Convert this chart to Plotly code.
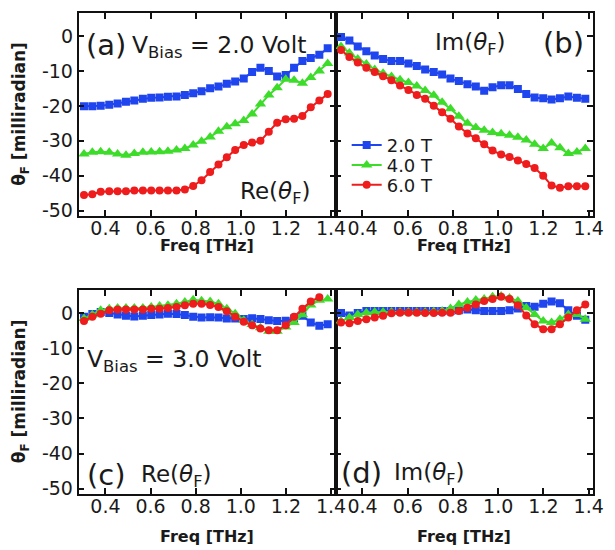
import plotly.graph_objects as go

# ---------------- data ----------------
freq = [0.305, 0.342, 0.379, 0.417, 0.454, 0.491, 0.528, 0.566, 0.603, 0.640,
        0.677, 0.715, 0.752, 0.789, 0.826, 0.864, 0.901, 0.938, 0.975, 1.013,
        1.050, 1.087, 1.124, 1.161, 1.199, 1.236, 1.273, 1.310, 1.348, 1.385]

# (a) Re, V_bias = 2.0 V
re2_a = [-20.1, -20.1, -20.0, -19.7, -19.3, -18.8, -18.5, -18.0, -17.7, -17.6,
         -17.4, -17.3, -16.9, -16.4, -15.8, -15.0, -14.5, -13.7, -13.0, -12.2,
         -10.3, -9.1, -10.0, -11.6, -11.2, -9.1, -7.2, -6.3, -5.4, -3.5]
re4_a = [-33.8, -33.3, -33.1, -33.3, -33.8, -34.1, -33.6, -33.3, -33.2, -33.1,
         -33.0, -32.6, -32.2, -31.2, -30.1, -28.9, -27.3, -26.0, -25.1, -24.2,
         -22.3, -19.5, -16.9, -14.8, -12.4, -12.7, -13.5, -11.9, -10.0, -7.9]
re6_a = [-45.5, -45.3, -44.6, -44.4, -44.4, -44.4, -44.2, -44.2, -44.2, -44.2,
         -44.2, -44.2, -43.9, -42.9, -41.3, -38.9, -36.8, -34.7, -32.6, -31.2,
         -30.5, -30.0, -27.4, -24.8, -23.8, -23.7, -22.9, -20.4, -18.5, -16.6]

# (b) Im, V_bias = 2.0 V
im2_b = [-0.3, -1.3, -3.0, -4.4, -5.6, -6.6, -7.2, -7.2, -7.9, -8.6,
         -9.6, -10.3, -11.0, -12.2, -12.9, -13.8, -14.5, -15.7, -14.7, -14.1,
         -14.1, -15.2, -16.6, -17.6, -17.8, -18.2, -17.8, -17.3, -17.7, -18.0]
im4_b = [-3.0, -4.9, -6.6, -8.0, -9.6, -10.7, -11.6, -12.5, -13.3, -14.3,
         -15.6, -17.0, -19.0, -20.8, -23.0, -25.0, -26.2, -27.0, -27.6, -28.0,
         -28.4, -29.0, -29.8, -31.0, -32.2, -30.6, -32.0, -33.6, -33.2, -32.2]
im6_b = [-4.0, -6.0, -7.6, -9.1, -10.3, -11.5, -12.7, -14.2, -15.5, -16.9,
         -18.0, -20.0, -21.8, -23.7, -25.9, -27.9, -29.3, -31.0, -32.8, -33.9,
         -34.6, -35.6, -36.6, -37.8, -40.0, -42.8, -43.4, -43.0, -43.0, -43.0]

# (c) Re, V_bias = 3.0 V
re2_c = [-1.1, -0.3, 0.3, 0.0, -0.4, -0.8, -1.0, -0.8, -0.6, -0.4,
         -0.2, -0.3, -0.6, -1.1, -1.3, -1.2, -1.3, -1.6, -1.6, -1.7,
         -1.5, -1.7, -2.1, -2.3, -2.2, -1.6, -0.8, -2.7, -3.6, -3.2]
re4_c = [-1.6, -0.5, 0.8, 1.2, 1.4, 1.4, 1.4, 1.4, 1.7, 2.0,
         2.2, 2.6, 3.1, 3.8, 3.5, 3.3, 2.6, 1.2, -0.2, -2.1,
         -3.3, -4.2, -5.2, -5.2, -4.0, -2.7, -0.5, 2.3, 3.6, 4.0]
re6_c = [-2.3, -1.1, -0.2, 0.75, 1.0, 1.0, 1.0, 1.0, 1.2, 1.2,
         1.4, 1.7, 2.2, 2.6, 2.6, 2.3, 1.7, 0.5, -1.1, -2.5,
         -3.5, -4.4, -4.9, -4.9, -3.5, -1.1, 1.2, 3.3, 4.5]

# (d) Im, V_bias = 3.0 V
im2_d = [0.0, -0.7, 0.0, 0.6, 0.6, 0.6, 0.6, 0.6, 0.6, 0.6,
         0.6, 0.6, 0.6, 0.6, 0.8, 1.0, 0.8, 0.6, 0.6, 0.6,
         0.8, 1.3, 2.0, 1.8, 2.6, 3.3, 2.8, 0.8, -0.8, -1.9]
im4_d = [-2.3, -1.3, -0.4, 0.1, 0.3, 0.3, 0.3, 0.3, 0.3, 0.3,
         0.3, 0.4, 0.6, 1.3, 2.4, 3.1, 3.7, 4.0, 4.6, 4.8,
         4.3, 3.4, 1.5, -0.4, -2.3, -2.7, -1.8, -0.4, -0.4, -1.8]
im6_d = [-2.7, -2.9, -2.3, -1.8, -1.3, -0.8, -0.1, 0.1, 0.1, 0.1,
         0.0, 0.0, 0.1, 0.1, 0.6, 1.5, 2.4, 3.4, 4.0, 4.6,
         4.0, 2.2, -0.7, -3.2, -4.6, -4.6, -3.2, -1.3, 0.8, 2.4]

series_names = ["2.0 T", "4.0 T", "6.0 T"]
x_tickvals = [0.4, 0.6, 0.8, 1.0, 1.2, 1.4]
x_ticktext = ["0.4", "0.6", "0.8", "1.0", "1.2", "1.4"]
y_tickvals = [0, -10, -20, -30, -40, -50]
y_ticktext = ["0", "-10", "-20", "-30", "-40", "-50"]

# ---------------- styling ----------------
W, H = 615, 550
FONT = "DejaVu Sans"
colors = ["#1f45ee", "#3ddc2a", "#ee1c1c"]
symbols = ["square", "triangle-up", "circle"]
msizes = [8, 10, 8]
legend_ids = ["legend", "legend2", "legend3"]

panels = [
    ("x", "y", [re2_a, re4_a, re6_a]),
    ("x2", "y2", [im2_b, im4_b, im6_b]),
    ("x3", "y3", [re2_c, re4_c, re6_c]),
    ("x4", "y4", [im2_d, im4_d, im6_d]),
]

fig = go.Figure()
for p, (xa, ya, sets) in enumerate(panels):
    for k, vals in enumerate(sets):
        fig.add_trace(go.Scatter(
            x=freq[:len(vals)], y=vals, xaxis=xa, yaxis=ya,
            mode="lines+markers", name=series_names[k],
            legend=legend_ids[k], showlegend=(p == 0),
            line=dict(color=colors[k], width=2),
            marker=dict(symbol=symbols[k], size=msizes[k], color=colors[k]),
        ))

px_x = lambda v: v / W
px_y = lambda v: 1 - v / H

xl = [px_x(80), px_x(341.7)]
xr = [px_x(341.7), px_x(604)]
yt = [px_y(218), px_y(13)]
yb = [px_y(499), px_y(293)]

TICKFONT = dict(family=FONT, size=19, color="#1a1a1a")

def xaxis(dom, anchor):
    return dict(domain=dom, anchor=anchor, range=[0.281, 1.42],
                tickvals=x_tickvals, ticktext=x_ticktext,
                ticks="inside", ticklen=6, tickwidth=1.5, tickcolor="#111",
                showline=True, linecolor="#111", linewidth=1.6, mirror="ticks",
                showgrid=False, zeroline=False, ticklabelstandoff=-5,
                tickfont=TICKFONT)

def yaxis(dom, anchor, labels):
    return dict(domain=dom, anchor=anchor, range=[-51.4, 6.6],
                tickvals=y_tickvals, ticktext=y_ticktext, showticklabels=labels,
                ticks="inside", ticklen=6, tickwidth=1.5, tickcolor="#111",
                showline=True, linecolor="#111", linewidth=1.6, mirror="ticks",
                showgrid=False, zeroline=False, ticklabelstandoff=0,
                tickfont=TICKFONT)

layout = dict(
    width=W, height=H, margin=dict(l=0, r=0, t=0, b=0),
    paper_bgcolor="white", plot_bgcolor="white",
    xaxis=xaxis(xl, "y"), yaxis=yaxis(yt, "x", True),
    xaxis2=xaxis(xr, "y2"), yaxis2=yaxis(yt, "x2", False),
    xaxis3=xaxis(xl, "y3"), yaxis3=yaxis(yb, "x3", True),
    xaxis4=xaxis(xr, "y4"), yaxis4=yaxis(yb, "x4", False),
    showlegend=True,
    font=dict(family=FONT, color="#1a1a1a"),
)
for k, lid in enumerate(legend_ids):
    layout[lid] = dict(x=px_x(353), y=px_y(147 + 20 * k), xanchor="left", yanchor="middle",
                       bgcolor="rgba(0,0,0,0)", borderwidth=0,
                       font=dict(family=FONT, size=18, color="#1a1a1a"))
fig.update_layout(**layout)

ann = []
def add(text, x, y, size, xanchor="center", yanchor="middle", angle=0):
    ann.append(dict(text=text, x=px_x(x), y=px_y(y), xref="paper", yref="paper",
                    xanchor=xanchor, yanchor=yanchor, showarrow=False, textangle=angle,
                    font=dict(family=FONT, size=size, color="#1a1a1a")))

# axis titles
for cx in (210.9, 472.9):
    add("<b>Freq [THz]</b>", cx, 248, 16)
    add("<b>Freq [THz]</b>", cx, 542, 16)
add("<b>θ<sub>F</sub> [milliradian]</b>", 21, 115.5, 17, angle=-90)
add("<b>θ<sub>F</sub> [milliradian]</b>", 21, 396, 17, angle=-90)

# panel labels
add("(a)", 108, 45, 29)
add("V<sub>Bias</sub> = 2.0 Volt", 132, 47, 23.5, xanchor="left")
add("Re(<i>θ</i><sub>F</sub>)", 280, 195, 23)
add("Im(<i>θ</i><sub>F</sub>)", 479, 44, 23)
add("(b)", 574, 43, 29)
add("V<sub>Bias</sub> = 3.0 Volt", 87, 364, 23.5, xanchor="left")
add("(c)", 108, 480, 29)
add("Re(<i>θ</i><sub>F</sub>)", 142, 481, 23, xanchor="left")
add("(d)", 368, 478, 29)
add("Im(<i>θ</i><sub>F</sub>)", 399, 479, 23, xanchor="left")

fig.update_layout(annotations=ann)
fig.write_html("out.html")
